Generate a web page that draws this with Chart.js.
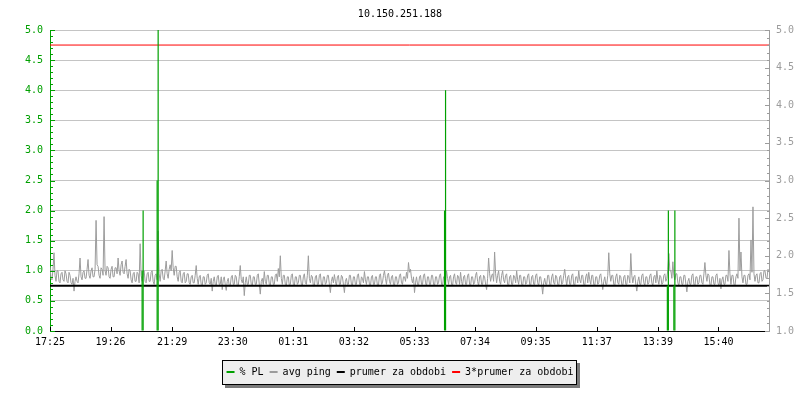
<!DOCTYPE html>
<html>
<head>
<meta charset="utf-8">
<script src="https://cdn.jsdelivr.net/npm/chart.js"></script>
<style>
html,body{margin:0;padding:0;background:#ffffff;}
#wrap{width:800px;height:400px;}
</style>
</head>
<body>
<div id="wrap"><canvas id="c" width="800" height="400"></canvas></div>
<script>
// ---------- data ----------
const titleText = '10.150.251.188';
const seriesNames = ['% PL', 'avg ping', 'prumer za obdobi', '3*prumer za obdobi'];
const xTickLabels = ['17:25','19:26','21:29','23:30','01:31','03:32','05:33','07:34','09:35','11:37','13:39','15:40'];
const xTickMinutes = [0, 121, 244, 365, 486, 607, 728, 849, 970, 1092, 1214, 1335];
const xMaxMinutes = 1436;
const pingStepMinutes = 2;
const pingValues = [
  1.86,1.70,1.68,1.82,2.04,1.74,1.66,1.80,1.80,1.66,1.64,1.76,1.78,1.68,1.66,1.80,1.76,1.66,1.64,1.78,
  1.74,1.64,1.62,1.70,1.53,1.66,1.72,1.66,1.64,1.76,1.97,1.72,1.68,1.78,1.80,1.70,1.70,1.82,1.95,1.74,
  1.70,1.80,1.84,1.72,1.72,1.82,2.47,1.88,1.86,1.74,1.70,1.84,1.82,1.74,2.52,1.80,1.74,1.86,1.84,1.72,
  1.70,1.82,1.86,1.72,1.72,1.84,1.84,1.76,1.97,1.80,1.74,1.88,1.93,1.78,1.76,1.86,1.95,1.76,1.70,1.82,
  1.80,1.68,1.64,1.76,1.78,1.66,1.66,1.78,1.76,1.64,2.16,1.74,1.66,1.78,1.80,1.66,1.64,1.76,1.78,1.66,
  1.66,1.78,1.80,1.66,1.62,1.74,1.76,1.68,2.33,1.76,1.66,1.80,1.82,1.70,1.68,1.80,1.93,1.76,1.70,1.82,
  1.88,1.80,2.07,1.84,1.74,1.86,1.86,1.72,1.66,1.78,1.80,1.66,1.64,1.76,1.78,1.64,1.66,1.76,1.76,1.64,
  1.62,1.72,1.74,1.64,1.64,1.74,1.87,1.70,1.62,1.72,1.74,1.62,1.60,1.72,1.72,1.62,1.64,1.74,1.76,1.64,
  1.62,1.70,1.53,1.66,1.72,1.62,1.60,1.72,1.74,1.62,1.62,1.72,1.55,1.68,1.72,1.62,1.54,1.66,1.70,1.60,
  1.60,1.72,1.74,1.62,1.62,1.74,1.72,1.60,1.60,1.72,1.87,1.68,1.64,1.72,1.47,1.64,1.72,1.62,1.62,1.74,
  1.74,1.62,1.60,1.72,1.72,1.62,1.62,1.74,1.76,1.62,1.49,1.66,1.70,1.62,1.79,1.66,1.62,1.74,1.74,1.62,
  1.60,1.72,1.72,1.62,1.62,1.74,1.76,1.66,1.83,1.72,2.00,1.70,1.62,1.74,1.74,1.62,1.60,1.72,1.72,1.60,
  1.62,1.74,1.76,1.62,1.60,1.72,1.72,1.62,1.64,1.74,1.74,1.62,1.60,1.72,1.76,1.64,1.62,1.74,2.00,1.70,
  1.64,1.74,1.72,1.60,1.60,1.72,1.74,1.62,1.62,1.74,1.76,1.62,1.60,1.72,1.72,1.62,1.64,1.74,1.74,1.62,
  1.51,1.66,1.72,1.64,1.75,1.66,1.60,1.72,1.74,1.62,1.62,1.74,1.72,1.62,1.51,1.66,1.70,1.62,1.62,1.74,
  1.74,1.62,1.60,1.72,1.72,1.62,1.62,1.74,1.76,1.64,1.60,1.72,1.70,1.64,1.79,1.68,1.62,1.72,1.72,1.62,
  1.60,1.72,1.74,1.62,1.62,1.72,1.72,1.60,1.60,1.74,1.76,1.62,1.64,1.74,1.80,1.70,1.62,1.74,1.77,1.66,
  1.62,1.72,1.74,1.62,1.60,1.72,1.72,1.62,1.64,1.74,1.76,1.64,1.62,1.72,1.72,1.66,1.78,1.70,1.91,1.78,
  1.82,1.70,1.64,1.72,1.51,1.64,1.72,1.62,1.60,1.72,1.74,1.62,1.62,1.74,1.76,1.64,1.60,1.72,1.72,1.62,
  1.62,1.74,1.74,1.62,1.60,1.72,1.72,1.62,1.64,1.74,1.76,1.62,1.60,1.72,1.72,1.66,1.80,1.70,1.62,1.72,
  1.74,1.62,1.60,1.72,1.76,1.64,1.62,1.74,1.72,1.62,1.78,1.66,1.60,1.72,1.74,1.62,1.62,1.74,1.76,1.62,
  1.60,1.72,1.72,1.62,1.64,1.74,1.78,1.66,1.60,1.72,1.74,1.62,1.62,1.74,1.72,1.62,1.55,1.70,1.97,1.76,
  1.66,1.74,1.76,1.66,2.05,1.76,1.64,1.74,1.80,1.66,1.62,1.74,1.80,1.68,1.64,1.74,1.76,1.62,1.60,1.72,
  1.74,1.62,1.62,1.74,1.72,1.64,1.80,1.68,1.62,1.74,1.74,1.62,1.60,1.72,1.72,1.62,1.64,1.74,1.76,1.62,
  1.60,1.72,1.74,1.62,1.62,1.74,1.76,1.64,1.60,1.72,1.72,1.62,1.49,1.64,1.70,1.62,1.62,1.74,1.74,1.62,
  1.60,1.72,1.76,1.64,1.62,1.74,1.72,1.62,1.60,1.72,1.74,1.62,1.64,1.74,1.82,1.70,1.60,1.72,1.74,1.62,
  1.62,1.74,1.76,1.62,1.60,1.72,1.72,1.64,1.80,1.68,1.64,1.74,1.74,1.62,1.60,1.72,1.76,1.64,1.78,1.68,
  1.62,1.74,1.74,1.62,1.60,1.72,1.72,1.62,1.64,1.74,1.76,1.64,1.55,1.66,1.72,1.62,1.62,1.74,2.04,1.76,
  1.66,1.74,1.74,1.62,1.60,1.72,1.76,1.64,1.62,1.74,1.72,1.62,1.60,1.72,1.74,1.62,1.62,1.74,1.72,1.64,
  2.03,1.74,1.64,1.72,1.74,1.62,1.53,1.66,1.72,1.62,1.62,1.74,1.76,1.64,1.60,1.72,1.72,1.62,1.64,1.74,
  1.76,1.64,1.60,1.72,1.74,1.64,1.80,1.68,1.62,1.74,1.72,1.62,1.64,1.74,1.76,1.66,1.70,1.82,2.03,1.80,
  1.80,1.70,1.92,1.74,1.68,1.76,1.76,1.64,1.60,1.72,1.72,1.62,1.62,1.74,1.74,1.62,1.52,1.66,1.70,1.62,
  1.62,1.74,1.76,1.62,1.60,1.72,1.72,1.62,1.64,1.74,1.74,1.64,1.62,1.76,1.91,1.74,1.66,1.76,1.74,1.62,
  1.60,1.72,1.72,1.62,1.62,1.74,1.76,1.64,1.60,1.70,1.56,1.68,1.72,1.62,1.62,1.74,1.74,1.66,2.07,1.76,
  1.62,1.74,1.74,1.62,1.60,1.72,1.76,1.70,2.50,1.80,2.05,1.72,1.64,1.74,1.74,1.62,1.62,1.74,1.76,1.68,
  2.21,1.78,2.65,1.76,1.66,1.74,1.76,1.64,1.64,1.76,1.78,1.66,1.68,1.80,1.80,1.70,1.70,1.82,1.80
];
const plMinutes = [184, 186, 214, 216, 788, 790, 1233, 1235, 1246, 1248];
const plValues  = [1.0, 2.0, 2.5, 5.0, 2.0, 4.0, 0.75, 2.0, 0.75, 2.0];
const pingMean = 1.6;
const pingMeanTriple = 4.8;

// ---------- styles ----------
const FONT = "'DejaVu Sans Mono', monospace";
const GREEN = '#00a000';
const GRAY = '#9c9c9c';
const GRID = '#c4c4c4';

const pingPoints = pingValues.map((v, i) => ({x: i * pingStepMinutes, y: v}));
const plPoints = plMinutes.map((m, i) => ({x: m, y: plValues[i]}));
const flat = v => [{x: 0, y: v}, {x: xMaxMinutes, y: v}];

const legendFrame = {
  id: 'legendFrame',
  beforeDraw(chart) {
    const lg = chart.legend;
    if (!lg || !lg.legendHitBoxes || !lg.legendHitBoxes.length) return;
    const hb = lg.legendHitBoxes;
    const l = Math.round(Math.min(...hb.map(h => h.left)) - 5);
    const r = Math.round(Math.max(...hb.map(h => h.left + h.width)) + 3);
    const t = Math.round(Math.min(...hb.map(h => h.top)) - 7);
    const b = Math.round(Math.max(...hb.map(h => h.top + h.height)) + 7);
    const ctx = chart.ctx;
    ctx.save();
    ctx.fillStyle = '#7a7a7a';
    ctx.fillRect(l + 3, t + 3, r - l + 1, b - t + 1);
    ctx.fillStyle = '#eeeeee';
    ctx.fillRect(l, t, r - l, b - t);
    ctx.strokeStyle = '#000000';
    ctx.lineWidth = 1;
    ctx.strokeRect(l + 0.5, t + 0.5, r - l, b - t);
    ctx.restore();
  }
};

const axisTicks = {
  id: 'axisTicks',
  afterDraw(chart) {
    const ctx = chart.ctx, a = chart.chartArea;
    const yl = chart.scales.yPL, yr = chart.scales.yPing, xs = chart.scales.x;
    ctx.save();
    ctx.lineWidth = 1;
    ctx.strokeStyle = GREEN;
    ctx.beginPath();
    for (let k = Math.round(yl.min * 10); k <= Math.round(yl.max * 10); k++) {
      const y = Math.round(yl.getPixelForValue(k / 10)) + 0.5;
      const len = (k % 5 === 0) ? 5 : 3;
      ctx.moveTo(a.left, y); ctx.lineTo(a.left + len, y);
    }
    ctx.stroke();
    ctx.strokeStyle = GRAY;
    ctx.beginPath();
    for (let k = Math.round(yr.min * 10); k <= Math.round(yr.max * 10); k++) {
      const y = Math.round(yr.getPixelForValue(k / 10)) + 0.5;
      const len = (k % 5 === 0) ? 4 : 2;
      ctx.moveTo(a.right, y); ctx.lineTo(a.right - len, y);
    }
    ctx.stroke();
    ctx.strokeStyle = '#000000';
    ctx.beginPath();
    xTickMinutes.forEach(m => {
      const x = Math.round(xs.getPixelForValue(m)) + 0.5;
      ctx.moveTo(x, a.bottom); ctx.lineTo(x, a.bottom - 4);
    });
    ctx.stroke();
    ctx.restore();
  }
};

Chart.defaults.font.family = FONT;
Chart.defaults.font.size = 10;

new Chart(document.getElementById('c'), {
  type: 'line',
  data: {
    datasets: [
      {
        type: 'bar', label: seriesNames[0], data: plPoints, yAxisID: 'yPL', xAxisID: 'x',
        backgroundColor: GREEN, borderColor: GREEN, borderWidth: 0,
        barThickness: 1.2, inflateAmount: 0, order: 0
      },
      {
        label: seriesNames[1], data: pingPoints, yAxisID: 'yPing', xAxisID: 'x',
        borderColor: GRAY, backgroundColor: GRAY, borderWidth: 1,
        pointRadius: 0, tension: 0, order: 3
      },
      {
        label: seriesNames[2], data: flat(pingMean), yAxisID: 'yPing', xAxisID: 'x',
        borderColor: '#000000', backgroundColor: '#000000', borderWidth: 2,
        pointRadius: 0, order: 2
      },
      {
        label: seriesNames[3], data: flat(pingMeanTriple), yAxisID: 'yPing', xAxisID: 'x',
        borderColor: '#ff0000', backgroundColor: '#ff0000', borderWidth: 1,
        pointRadius: 0, order: 1
      }
    ]
  },
  options: {
    responsive: false,
    animation: false,
    devicePixelRatio: 1,
    layout: {padding: {left: 0, right: 0, top: 0, bottom: 13}},
    plugins: {
      title: {
        display: true, text: titleText, color: '#000000',
        font: {family: FONT, size: 10, weight: 'normal'},
        padding: {top: 8, bottom: 10}
      },
      legend: {
        position: 'bottom',
        labels: {
          color: '#000000', font: {family: FONT, size: 10},
          boxWidth: 8, boxHeight: 2, padding: 6,
          sort: (a, b) => a.datasetIndex - b.datasetIndex,
          generateLabels: chart => Chart.defaults.plugins.legend.labels.generateLabels(chart)
            .map(l => Object.assign(l, {fillStyle: l.strokeStyle, lineWidth: 0}))
        }
      },
      tooltip: {enabled: false}
    },
    scales: {
      x: {
        type: 'linear', min: 0, max: xMaxMinutes, offset: false,
        grid: {display: false, drawTicks: false},
        border: {display: true, color: '#000000', width: 1},
        afterBuildTicks: s => { s.ticks = xTickMinutes.map(v => ({value: v})); },
        afterFit: s => { s.height = 30; },
        ticks: {
          autoSkip: false, maxRotation: 0, minRotation: 0, padding: 5, color: '#000000',
          font: {family: FONT, size: 10},
          callback: (v, i) => xTickLabels[i]
        }
      },
      yPL: {
        type: 'linear', position: 'left', min: 0, max: 5,
        afterFit: s => { s.width = 50; },
        ticks: {stepSize: 0.5, color: GREEN, padding: 7, font: {family: FONT, size: 10}, callback: v => Number(v).toFixed(1)},
        grid: {drawTicks: false, color: c => (c.tick && c.tick.value === 0) ? 'rgba(0,0,0,0)' : GRID, lineWidth: 1},
        border: {display: true, color: GREEN, width: 1}
      },
      yPing: {
        type: 'linear', position: 'right', min: 1, max: 5,
        afterFit: s => { s.width = 31; },
        ticks: {stepSize: 0.5, color: GRAY, padding: 7, font: {family: FONT, size: 10}, callback: v => Number(v).toFixed(1)},
        grid: {display: false, drawTicks: false},
        border: {display: true, color: GRAY, width: 1}
      }
    }
  },
  plugins: [legendFrame, axisTicks]
});
</script>
</body>
</html>
